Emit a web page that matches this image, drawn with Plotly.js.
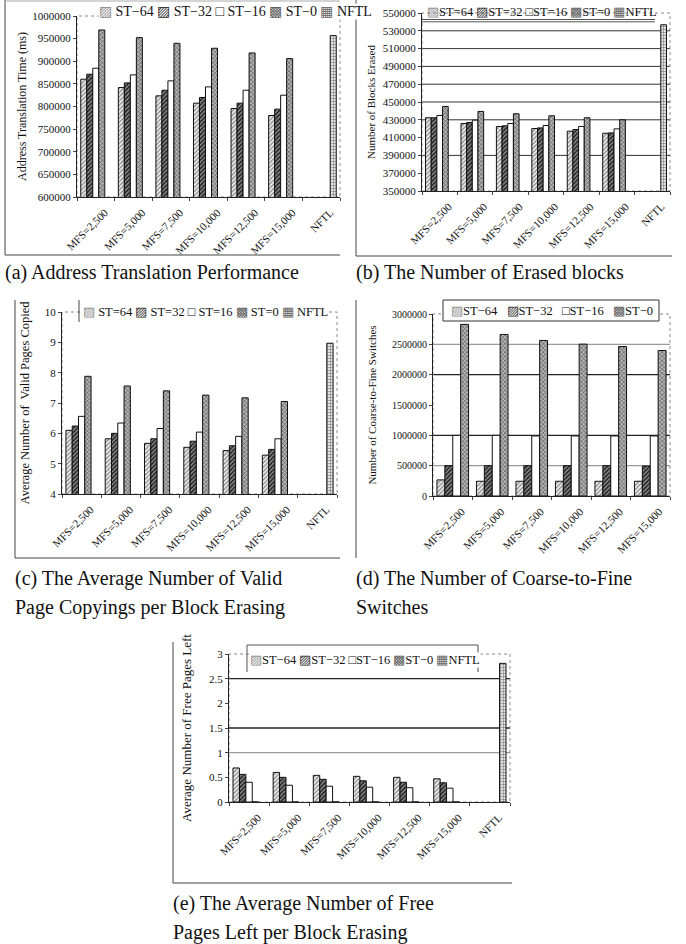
<!DOCTYPE html>
<html>
<head>
<meta charset="utf-8">
<script src="https://cdn.plot.ly/plotly-3.0.1.min.js"></script>
<style>html,body{margin:0;padding:0;background:#fff;}#chart{width:686px;height:944px;}</style>
</head>
<body>
<div id="chart"></div>
<script>
// ---------------- DATA ----------------
const categories = ['MFS=2,500','MFS=5,000','MFS=7,500','MFS=10,000','MFS=12,500','MFS=15,000','NFTL'];
const categoriesD = ['MFS=2,500','MFS=5,000','MFS=7,500','MFS=10,000','MFS=12,500','MFS=15,000'];

// (a) Address Translation Time (ms)
const aST64 = [860300, 841900, 823500, 807400, 795600, 780100, null];
const aST32 = [871300, 852200, 836000, 819900, 807400, 794100, null];
const aST16 = [884600, 869900, 856600, 843400, 836000, 825000, null];
const aST0  = [969100, 952200, 939700, 928700, 918400, 905900, null];
const aNFTL = [null, null, null, null, null, null, 956600];

// (b) Number of Blocks Erased
const bST64 = [432300, 425800, 422500, 420200, 417200, 414900, null];
const bST32 = [432300, 426900, 423200, 420900, 419100, 415300, null];
const bST16 = [434900, 429600, 425800, 423600, 422500, 419800, null];
const bST0  = [445000, 439400, 436800, 434500, 432300, 430000, null];
const bNFTL = [null, null, null, null, null, null, 536800];

// (c) Average Number of Valid Pages Copied
const cST64 = [6.10, 5.82, 5.67, 5.54, 5.43, 5.28, null];
const cST32 = [6.24, 6.00, 5.82, 5.74, 5.59, 5.47, null];
const cST16 = [6.56, 6.34, 6.16, 6.04, 5.90, 5.82, null];
const cST0  = [7.88, 7.56, 7.40, 7.26, 7.17, 7.05, null];
const cNFTL = [null, null, null, null, null, null, 8.97];

// (d) Number of Coarse-to-Fine Switches
const dST64 = [265000, 243000, 243000, 243000, 243000, 243000];
const dST32 = [500000, 500000, 500000, 500000, 500000, 495000];
const dST16 = [1000000, 1000000, 990000, 990000, 990000, 990000];
const dST0  = [2829000, 2663000, 2564000, 2503000, 2464000, 2398000];

// (e) Average Number of Free Pages Left
const eST64 = [0.69, 0.60, 0.54, 0.52, 0.50, 0.47, null];
const eST32 = [0.56, 0.50, 0.46, 0.43, 0.40, 0.39, null];
const eST16 = [0.40, 0.34, 0.32, 0.30, 0.29, 0.28, null];
const eST0  = [0, 0, 0, 0, 0, 0, null];
const eNFTL = [null, null, null, null, null, null, 2.81];

// legend labels as printed
const legendA = ['ST−64','ST−32','ST−16','ST−0','NFTL'];
const legendB = ['ST=64','ST=32','ST=16','ST=0','NFTL'];
const legendC = ['ST=64','ST=32','ST=16','ST=0','NFTL'];
const legendD = ['ST−64','ST−32','ST−16','ST−0'];
const legendE = ['ST−64','ST−32','ST−16','ST−0','NFTL'];

const captions = {
  a: ['(a) Address Translation Performance'],
  b: ['(b) The Number of Erased blocks'],
  c: ['(c) The Average Number of Valid', 'Page Copyings per Block Erasing'],
  d: ['(d) The Number of Coarse-to-Fine', 'Switches'],
  e: ['(e) The Average Number of Free', 'Pages Left per Block Erasing']
};
const yTitles = {
  a: 'Address Translation Time (ms)',
  b: 'Number of Blocks Erased',
  c: 'Average Number of  Valid Pages Copied',
  d: 'Number of Coarse-to-Fine Switches',
  e: 'Average Number of Free Pages Left'
};

// ---------------- STYLE ----------------
const W = 686, H = 944;
const FONT = 'Liberation Serif, Times New Roman, serif';
const px = v => v / W;
const py = v => 1 - v / H;

const styles = [
  {pattern: {shape: '/', bgcolor: '#ececec', fgcolor: '#7a7a7a', size: 3, solidity: 0.35}, color: '#ececec'},
  {pattern: {shape: '/', bgcolor: '#8c8c8c', fgcolor: '#1e1e1e', size: 3, solidity: 0.5}, color: '#8c8c8c'},
  {pattern: {shape: '', bgcolor: '#ffffff', fgcolor: '#ffffff'}, color: '#ffffff'},
  {pattern: {shape: 'x', bgcolor: '#b4b4b4', fgcolor: '#4a4a4a', size: 3, solidity: 0.35}, color: '#b4b4b4'},
  {pattern: {shape: '+', bgcolor: '#e2e2e2', fgcolor: '#6a6a6a', size: 3, solidity: 0.3}, color: '#e2e2e2'}
];
const symChars = ['▨', '▨', '□', '▩', '▦'];
const symColors = ['#8a8a8a', '#2a2a2a', '#111', '#5a5a5a', '#666'];

const boxes = {
  a: {l: 77, r: 340, t: 16, b: 197},
  b: {l: 422, r: 670, t: 13, b: 191},
  c: {l: 62, r: 337, t: 312, b: 494},
  d: {l: 433, r: 670, t: 314, b: 496},
  e: {l: 229, r: 510, t: 654, b: 802}
};
const axisIds = {a: ['x', 'y'], b: ['x2', 'y2'], c: ['x3', 'y3'], d: ['x4', 'y4'], e: ['x5', 'y5']};

const traces = [];
function addGroup(key, cats, series, names) {
  const [xa, ya] = axisIds[key];
  series.forEach((vals, i) => {
    traces.push({
      type: 'bar', x: cats, y: vals, name: names[i],
      xaxis: xa, yaxis: ya, showlegend: false,
      marker: {color: styles[i].color, pattern: styles[i].pattern, line: {color: '#111', width: 1}},
      hoverinfo: 'x+y+name'
    });
  });
}
addGroup('a', categories, [aST64, aST32, aST16, aST0, aNFTL], legendA);
addGroup('b', categories, [bST64, bST32, bST16, bST0, bNFTL], legendB);
addGroup('c', categories, [cST64, cST32, cST16, cST0, cNFTL], legendC);
addGroup('d', categoriesD, [dST64, dST32, dST16, dST0], legendD);
addGroup('e', categories, [eST64, eST32, eST16, eST0, eNFTL], legendE);

function xAxis(key, anchor) {
  const bx = boxes[key];
  return {
    domain: [px(bx.l), px(bx.r)], anchor: anchor, type: 'category',
    showline: true, linecolor: '#222', linewidth: 1,
    ticks: 'outside', tickson: 'boundaries', ticklen: 3, tickcolor: '#444',
    tickangle: -45, tickfont: {family: FONT, size: 11, color: '#111'},
    ticklabelshift: 9, ticklabelstandoff: 4,
    showgrid: false, zeroline: false, automargin: false, fixedrange: true
  };
}
function yAxis(key, anchor, range, dtick, fsize, tfsize, standoff) {
  const bx = boxes[key];
  return {
    domain: [py(bx.b), py(bx.t)], anchor: anchor, range: range, dtick: dtick, tick0: range[0],
    showline: true, linecolor: '#222', linewidth: 1,
    ticks: 'outside', ticklen: 3, tickcolor: '#444', tickformat: 'd',
    tickfont: {family: FONT, size: fsize, color: '#111'},
    title: {text: yTitles[key], font: {family: FONT, size: tfsize, color: '#111'}, standoff: standoff},
    showgrid: false, zeroline: false, automargin: false, fixedrange: true
  };
}

const layout = {
  width: W, height: H,
  margin: {l: 0, r: 0, t: 0, b: 0},
  paper_bgcolor: '#fff', plot_bgcolor: '#fff',
  barmode: 'group', bargap: 0.2, bargroupgap: 0,
  font: {family: FONT, color: '#111'},
  xaxis: xAxis('a', 'y'),
  yaxis: yAxis('a', 'x', [600000, 1000000], 50000, 11, 12, 3),
  xaxis2: xAxis('b', 'y2'),
  yaxis2: yAxis('b', 'x2', [350000, 550000], 20000, 11, 11, 4),
  xaxis3: xAxis('c', 'y3'),
  yaxis3: yAxis('c', 'x3', [4, 10], 1, 11, 12.5, 12),
  xaxis4: xAxis('d', 'y4'),
  yaxis4: yAxis('d', 'x4', [0, 3000000], 500000, 10, 11, 13),
  xaxis5: xAxis('e', 'y5'),
  yaxis5: yAxis('e', 'x5', [0, 3], 0.5, 11, 13, 14),
  shapes: [], annotations: [],
  showlegend: false
};
layout.yaxis3.tickformat = '';
layout.yaxis5.tickformat = '';

// gridlines (value, colour)
const gridB = [[390000, '#333'], [430000, '#333'], [450000, '#333'], [470000, '#333'], [490000, '#333'], [510000, '#333'], [530000, '#333']];
const gridD = [[500000, '#9a9a9a'], [1000000, '#222'], [2000000, '#222'], [2500000, '#9a9a9a']];
const gridE = [[1, '#9a9a9a'], [1.5, '#222'], [2.5, '#222']];
function grid(key, list, w) {
  const [xa, ya] = axisIds[key];
  list.forEach(([v, c]) => layout.shapes.push({
    type: 'line', xref: xa + ' domain', yref: ya, x0: 0, x1: 1, y0: v, y1: v,
    line: {color: c, width: w || 1}, layer: 'below'
  }));
}
grid('b', gridB, 1);
grid('d', gridD, 1.3);
grid('e', gridE, 1.3);

// dotted plot-area borders
['a', 'b', 'c', 'd', 'e'].forEach(k => {
  const [xa, ya] = axisIds[k];
  layout.shapes.push({type: 'rect', xref: xa + ' domain', yref: ya + ' domain', x0: 0, x1: 1, y0: 0, y1: 1,
    line: {color: '#8a8a8a', width: 1, dash: 'dot'}, fillcolor: 'rgba(0,0,0,0)', layer: 'below'});
});

// outer frames of each panel (paper)
function pline(x0, y0, x1, y1, color, w) {
  layout.shapes.push({type: 'line', xref: 'paper', yref: 'paper', x0: px(x0), x1: px(x1), y0: py(y0), y1: py(y1),
    line: {color: color || '#444', width: w || 1}});
}
pline(5, 0, 5, 255); pline(5, 255, 340, 255); pline(5, 1, 340, 1, '#aaa');
pline(356, 0, 356, 256); pline(356, 256, 672, 256);
pline(15, 300, 15, 558); pline(15, 558, 340, 558);
pline(356, 300, 356, 558);
pline(173, 642, 173, 883); pline(173, 883, 512, 883);
// legend frames
pline(422, 19.5, 655, 19.5, '#555'); pline(422, 21.8, 655, 21.8, '#555');
pline(79, 300, 79, 322, '#444');
layout.shapes.push({type: 'rect', xref: 'paper', yref: 'paper', x0: px(443), x1: px(659), y0: py(321), y1: py(300),
  line: {color: '#333', width: 1}, fillcolor: '#fff'});
layout.shapes.push({type: 'path', xref: 'paper', yref: 'paper',
  path: `M ${px(247)} ${py(672)} L ${px(247)} ${py(645)} L ${px(478)} ${py(645)} L ${px(478)} ${py(672)}`,
  line: {color: '#555', width: 1}});

// legends as text
function legendText(names, gap, sep) {
  return names.map((n, i) => `<span style="color:${symColors[i]}">${symChars[i]}</span>${gap}${n}`).join(sep);
}
function legend(names, x, y, size, gap, sep, bg) {
  layout.annotations.push({xref: 'paper', yref: 'paper', x: px(x), y: py(y), xanchor: 'left', yanchor: 'middle',
    text: legendText(names, gap, sep), showarrow: false, font: {family: FONT, size: size, color: '#111'},
    bgcolor: bg || 'rgba(0,0,0,0)', borderpad: 0});
}
legend(legendA, 98, 12, 14, ' ', ' ', '#fff');
legend(legendB, 426, 12, 12.5, '', ' ');
legend(legendC, 82, 312, 12.5, ' ', ' ', '#fff');
legend(legendD, 450, 311, 12.5, '', '&nbsp;&nbsp;&nbsp;');
legend(legendE, 249, 660, 12.5, '', ' ', '#fff');

// captions
function caption(lines, x, y) {
  lines.forEach((t, i) => layout.annotations.push({xref: 'paper', yref: 'paper', x: px(x), y: py(y + i * 29),
    xanchor: 'left', yanchor: 'middle', text: t, showarrow: false,
    font: {family: FONT, size: 20, color: '#111'}}));
}
caption(captions.a, 3, 273);
caption(captions.b, 354, 273);
caption(captions.c, 13, 578);
caption(captions.d, 354, 578);
caption(captions.e, 171, 903);

Plotly.newPlot('chart', traces, layout, {displayModeBar: false, staticPlot: true});
</script>
</body>
</html>
